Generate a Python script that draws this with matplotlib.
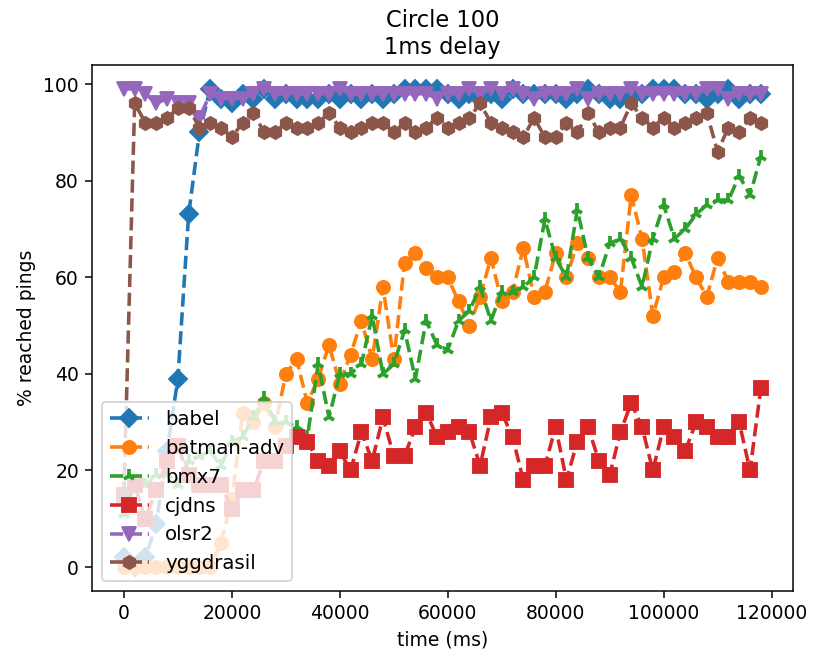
import matplotlib
matplotlib.use("Agg")
import matplotlib.pyplot as plt

# time axis: one sample every 2 s
time_ms = list(range(0, 120000, 2000))

babel = [2, 0, 2, 9, 24, 39, 73, 90, 99, 97,
         96, 98, 97, 99, 97, 98, 97, 97, 97, 98,
         97, 98, 97, 98, 97, 98, 99, 99, 99, 99,
         98, 97, 98, 97, 98, 97, 99, 98, 98, 98,
         98, 97, 98, 99, 98, 97, 97, 98, 98, 99,
         99, 99, 98, 98, 97, 98, 99, 97, 98, 98]

batman_adv = [0, 0, 0, 0, 0, 0, 0, 0, 0, 5,
              14, 32, 30, 34, 29, 40, 43, 34, 39, 46,
              38, 44, 51, 43, 58, 43, 63, 65, 62, 60,
              60, 55, 50, 56, 64, 55, 57, 66, 56, 57,
              65, 60, 67, 64, 60, 60, 57, 77, 68, 52,
              60, 61, 65, 60, 56, 64, 59, 59, 59, 58]

bmx7 = [11, 17, 17, 19, 19, 17, 22, 23, 24, 21,
        26, 27, 31, 35, 30, 30, 29, 27, 42, 31,
        40, 40, 42, 52, 40, 42, 49, 39, 51, 46,
        45, 51, 53, 58, 51, 57, 57, 58, 60, 72,
        64, 60, 74, 64, 60, 67, 68, 64, 58, 68,
        75, 68, 70, 73, 75, 76, 76, 81, 77, 85]

cjdns = [15, 17, 10, 16, 22, 25, 19, 17, 17, 17,
         12, 16, 16, 22, 22, 25, 27, 26, 22, 21,
         24, 20, 28, 22, 31, 23, 23, 29, 32, 27,
         28, 29, 28, 21, 31, 32, 27, 18, 21, 21,
         29, 18, 26, 29, 22, 19, 28, 34, 29, 20,
         29, 27, 24, 30, 29, 27, 27, 30, 20, 37]

olsr2 = [99, 99, 98, 96, 97, 96, 96, 93, 98, 97,
         97, 97, 98, 99, 98, 98, 98, 98, 98, 98,
         99, 98, 98, 98, 98, 98, 98, 98, 98, 97,
         98, 98, 99, 98, 99, 98, 99, 98, 97, 98,
         98, 98, 99, 97, 98, 98, 98, 99, 98, 98,
         98, 98, 98, 98, 99, 99, 97, 98, 98, 98]

yggdrasil = [15, 96, 92, 92, 93, 95, 95, 91, 92, 91,
             89, 92, 94, 90, 90, 92, 91, 91, 92, 94,
             91, 90, 91, 92, 92, 90, 92, 90, 91, 93,
             91, 92, 93, 96, 92, 91, 90, 89, 93, 89,
             89, 92, 90, 94, 90, 91, 91, 96, 93, 91,
             93, 91, 92, 93, 94, 86, 91, 90, 93, 92]

protocols = ["babel", "batman-adv", "bmx7", "cjdns", "olsr2", "yggdrasil"]
series = [babel, batman_adv, bmx7, cjdns, olsr2, yggdrasil]
markers = ["D", "o", "2", "s", "v", "h"]


def main():
    fig = plt.figure(figsize=(818 / 135, 655 / 135), dpi=135)
    ax = fig.add_subplot(1, 1, 1)

    for name, values, m in zip(protocols, series, markers):
        mew = 2 if m == "2" else 1
        ax.plot(time_ms, values, linestyle="--", marker=m, label=name,
                linewidth=1.9, markersize=7, markeredgewidth=mew)

    ax.set_title("Circle 100\n1ms delay")
    ax.set_xlabel("time (ms)")
    ax.set_ylabel("% reached pings")
    ax.legend(loc="lower left", fontsize=10.5)

    fig.subplots_adjust(left=0.1125, right=0.969, bottom=0.0977, top=0.9008)
    fig.savefig("out.png", dpi=135)


if __name__ == "__main__":
    main()
